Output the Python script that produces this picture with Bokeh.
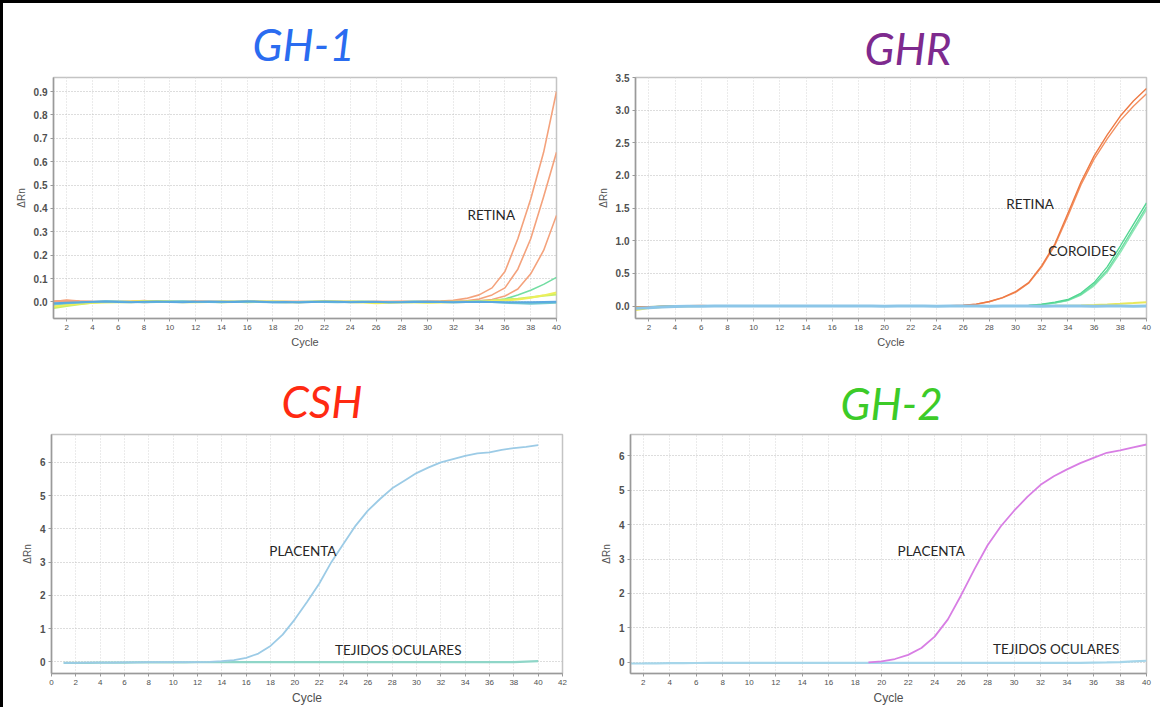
from bokeh.plotting import figure
from bokeh.layouts import column, row
from bokeh.models import FixedTicker, NumeralTickFormatter, Label
from bokeh.embed import file_html
from bokeh.resources import INLINE

# ---------------- data ----------------
cycles = list(range(1, 41))
x_ticks_a = [2, 4, 6, 8, 10, 12, 14, 16, 18, 20, 22, 24, 26, 28, 30, 32, 34, 36, 38, 40]
x_ticks_csh = [0, 2, 4, 6, 8, 10, 12, 14, 16, 18, 20, 22, 24, 26, 28, 30, 32, 34, 36, 38, 40, 42]
y_ticks_gh1 = [0.0, 0.1, 0.2, 0.3, 0.4, 0.5, 0.6, 0.7, 0.8, 0.9]
y_ticks_ghr = [0.0, 0.5, 1.0, 1.5, 2.0, 2.5, 3.0, 3.5]
y_ticks_csh = [0, 1, 2, 3, 4, 5, 6]
y_ticks_gh2 = [0, 1, 2, 3, 4, 5, 6]

titles = ["GH-1", "GHR", "CSH", "GH-2"]
labels_gh1 = ["RETINA"]
labels_ghr = ["RETINA", "COROIDES"]
labels_csh = ["PLACENTA", "TEJIDOS OCULARES"]
labels_gh2 = ["PLACENTA", "TEJIDOS OCULARES"]

# GH-1
gh1_retina_a = [0.004, 0.006, 0.003, 0.002, 0.001, 0.002, 0.003, 0.006, 0.002, 0.001, 0.002, 0.003, 0.002, 0.001, 0.002, 0.003, 0.002, 0.001, 0.002, 0.001,
                0.000, 0.001, 0.002, 0.001, 0.000, 0.001, 0.002, 0.001, 0.002, 0.003, 0.004, 0.007, 0.015, 0.030, 0.060, 0.130, 0.270, 0.440, 0.640, 0.900]
gh1_retina_b = [0.002, 0.008, 0.004, 0.001, 0.000, 0.001, 0.002, 0.003, 0.001, 0.000, 0.001, 0.002, 0.001, 0.000, 0.001, 0.002, 0.001, 0.000, 0.001, 0.000,
                0.001, 0.002, 0.001, 0.000, 0.001, 0.000, 0.001, 0.002, 0.001, 0.001, 0.002, 0.003, 0.005, 0.012, 0.030, 0.060, 0.140, 0.270, 0.450, 0.640]
gh1_retina_c = [0.000, 0.004, 0.002, 0.000, 0.001, 0.000, 0.001, -0.002, 0.000, 0.001, 0.000, 0.001, 0.000, 0.001, 0.000, 0.001, 0.000, 0.001, 0.000, 0.001,
                0.000, 0.001, 0.000, 0.001, 0.000, 0.001, 0.000, 0.001, 0.000, 0.001, 0.001, 0.002, 0.003, 0.005, 0.010, 0.025, 0.055, 0.120, 0.220, 0.370]
gh1_green = [-0.012, -0.008, -0.004, -0.001, 0.001, 0.002, 0.000, -0.001, 0.001, 0.002, 0.001, 0.000, -0.001, 0.000, 0.001, 0.002, 0.001, 0.000, -0.001, 0.000,
             0.001, 0.002, 0.001, 0.000, 0.001, 0.000, -0.001, 0.000, 0.001, 0.000, 0.001, 0.000, 0.001, 0.002, 0.005, 0.012, 0.030, 0.050, 0.075, 0.105]
gh1_blue = [-0.006, -0.004, -0.002, 0.001, 0.002, 0.000, -0.001, 0.001, 0.002, 0.000, -0.002, 0.001, 0.002, 0.001, 0.000, 0.002, 0.001, -0.001, 0.000, -0.003,
            0.000, 0.002, 0.001, -0.001, 0.000, 0.001, -0.002, -0.001, 0.000, 0.001, 0.000, -0.001, 0.000, 0.001, 0.000, -0.001, -0.002, -0.001, 0.000, 0.001]
gh1_yellow = [-0.020, -0.012, -0.008, -0.004, -0.002, 0.000, 0.002, 0.004, 0.003, 0.001, -0.001, 0.000, 0.001, -0.001, 0.000, 0.001, 0.002, 0.000, -0.002, -0.001,
              0.001, 0.003, 0.002, -0.002, -0.003, -0.006, -0.004, -0.002, -0.001, -0.004, -0.003, -0.001, 0.000, 0.002, 0.004, 0.006, 0.010, 0.018, 0.028, 0.040]
gh1_lime = [-0.026, -0.018, -0.010, -0.004, 0.000, -0.002, -0.001, 0.002, 0.004, 0.002, 0.000, -0.002, 0.000, 0.002, 0.001, -0.001, 0.000, 0.002, 0.001, -0.001,
            0.000, 0.001, 0.000, 0.002, 0.001, 0.000, -0.002, -0.001, 0.000, -0.001, 0.000, 0.001, 0.002, 0.004, 0.006, 0.010, 0.014, 0.020, 0.026, 0.032]
gh1_teal = [-0.010, -0.006, -0.003, 0.000, 0.003, 0.002, 0.000, -0.001, 0.000, 0.002, 0.003, 0.001, 0.000, -0.001, 0.001, 0.002, 0.000, -0.002, -0.001, 0.000,
            0.001, 0.000, -0.001, 0.000, 0.001, 0.000, -0.001, 0.000, 0.002, 0.001, 0.000, -0.001, 0.000, 0.001, 0.000, -0.004, -0.006, -0.008, -0.006, -0.004]

# GHR
ghr_retina_a = [-0.020, -0.012, -0.006, -0.002, 0.004, 0.006, 0.002, 0.000, 0.001, 0.000, 0.001, 0.000, 0.001, 0.000, 0.001, 0.000, 0.001, 0.000, 0.001, 0.000,
                0.001, 0.002, 0.003, 0.004, 0.006, 0.012, 0.030, 0.070, 0.130, 0.220, 0.360, 0.620, 0.950, 1.420, 1.900, 2.300, 2.620, 2.910, 3.140, 3.330]
ghr_retina_b = [-0.018, -0.010, -0.005, -0.001, 0.006, 0.008, 0.003, 0.001, 0.000, 0.001, 0.000, 0.001, 0.000, 0.001, 0.000, 0.001, 0.000, 0.001, 0.000, 0.001,
                0.000, 0.001, 0.002, 0.003, 0.005, 0.010, 0.028, 0.066, 0.125, 0.210, 0.350, 0.600, 0.930, 1.380, 1.860, 2.250, 2.560, 2.840, 3.060, 3.250]
ghr_coroides_a = [-0.020, -0.012, -0.006, -0.003, -0.001, 0.000, 0.001, 0.000, 0.001, 0.000, 0.001, 0.000, 0.001, 0.000, 0.001, 0.000, 0.001, 0.000, 0.001, 0.000,
                  0.001, 0.000, 0.001, 0.000, 0.001, 0.000, 0.001, 0.002, 0.003, 0.004, 0.010, 0.030, 0.060, 0.100, 0.200, 0.360, 0.600, 0.920, 1.250, 1.580]
ghr_coroides_b = [-0.018, -0.010, -0.005, -0.002, 0.000, 0.001, 0.000, 0.001, 0.000, 0.001, 0.000, 0.001, 0.000, 0.001, 0.000, 0.001, 0.000, 0.001, 0.000, 0.001,
                  0.000, 0.001, 0.000, 0.001, 0.000, 0.001, 0.000, 0.001, 0.002, 0.003, 0.008, 0.025, 0.050, 0.090, 0.180, 0.330, 0.550, 0.860, 1.190, 1.520]
ghr_coroides_c = [-0.016, -0.010, -0.004, -0.001, 0.000, 0.000, 0.001, 0.000, 0.001, 0.000, 0.001, 0.000, 0.001, 0.000, 0.001, 0.000, 0.001, 0.000, 0.001, 0.000,
                  0.001, 0.000, 0.001, 0.000, 0.001, 0.000, 0.001, 0.000, 0.001, 0.002, 0.006, 0.020, 0.045, 0.085, 0.170, 0.310, 0.520, 0.820, 1.150, 1.480]
ghr_blue = [-0.035, -0.025, -0.015, -0.008, -0.004, -0.002, 0.000, 0.001, 0.000, 0.001, 0.002, 0.001, 0.000, 0.001, 0.002, 0.001, 0.000, 0.001, 0.000, -0.001,
            0.000, 0.001, 0.000, -0.001, 0.000, 0.001, 0.000, -0.001, 0.000, 0.001, 0.000, -0.001, 0.000, 0.001, 0.000, -0.001, 0.000, 0.000, -0.001, 0.000]
ghr_yellow = [-0.060, -0.030, -0.015, -0.006, -0.002, 0.000, 0.001, 0.000, 0.001, 0.000, 0.001, 0.000, 0.001, 0.000, 0.001, 0.000, 0.001, 0.000, 0.001, 0.000,
              0.001, 0.000, 0.001, 0.000, 0.001, 0.000, 0.001, 0.000, 0.001, 0.000, 0.002, 0.003, 0.004, 0.006, 0.010, 0.016, 0.024, 0.034, 0.046, 0.060]

# CSH
csh_placenta = [-0.030, -0.030, -0.025, -0.020, -0.020, -0.015, -0.015, -0.010, -0.010, -0.010, -0.005, -0.005, 0.000, 0.020, 0.050, 0.120, 0.250, 0.480, 0.820, 1.280,
                1.800, 2.350, 3.000, 3.550, 4.100, 4.550, 4.900, 5.220, 5.450, 5.680, 5.850, 6.000, 6.100, 6.200, 6.270, 6.300, 6.380, 6.430, 6.470, 6.520]
csh_ocular = [-0.030, -0.030, -0.028, -0.025, -0.022, -0.020, -0.018, -0.016, -0.015, -0.014, -0.013, -0.012, -0.012, -0.011, -0.010, -0.010, -0.010, -0.010, -0.010, -0.010,
              -0.010, -0.010, -0.010, -0.010, -0.010, -0.010, -0.010, -0.010, -0.010, -0.010, -0.010, -0.010, -0.010, -0.010, -0.010, -0.010, -0.008, -0.005, 0.010, 0.020]

# GH-2
gh2_cycles_placenta = [19, 20, 21, 22, 23, 24, 25, 26, 27, 28, 29, 30, 31, 32, 33, 34, 35, 36, 37, 38, 39, 40]
gh2_placenta = [0.000, 0.030, 0.100, 0.220, 0.420, 0.750, 1.250, 1.950, 2.700, 3.400, 3.950, 4.400, 4.800, 5.150, 5.400, 5.600, 5.780, 5.930, 6.080, 6.150, 6.240, 6.320]
gh2_ocular = [-0.030, -0.028, -0.025, -0.020, -0.018, -0.015, -0.012, -0.010, -0.010, -0.010, -0.010, -0.010, -0.010, -0.010, -0.010, -0.010, -0.010, -0.010, -0.010, -0.010,
              -0.010, -0.010, -0.010, -0.010, -0.010, -0.010, -0.010, -0.010, -0.010, -0.010, -0.010, -0.010, -0.010, -0.010, -0.010, -0.005, 0.000, 0.010, 0.030, 0.050]

# ---------------- styling helpers ----------------
AX_FONT = "Liberation Sans"
TITLE_FONT = "Lato"
ANN_FONT = "Lato"


def make_panel(width, height, bl, br, bt, bb, xr, yr, xticks, yticks, yfmt,
               title, tcolor, toffset, tstandoff, xlabel_size):
    p = figure(width=width, height=height, x_range=xr, y_range=yr,
               output_backend="svg", toolbar_location=None,
               min_border_left=bl, min_border_right=br,
               min_border_top=bt, min_border_bottom=bb)
    p.title.text = title
    p.title.text_font = TITLE_FONT
    p.title.text_font_style = "italic"
    p.title.text_font_size = "44px"
    p.title.text_color = tcolor
    p.title.align = "left"
    p.title.offset = toffset
    p.title.standoff = tstandoff
    p.background_fill_color = "white"
    p.border_fill_color = "white"
    p.outline_line_color = "#C4C4C4"
    p.outline_line_width = 1.5

    p.xaxis.ticker = FixedTicker(ticks=xticks)
    p.yaxis.ticker = FixedTicker(ticks=yticks)
    if yfmt:
        p.yaxis.formatter = NumeralTickFormatter(format=yfmt)
    p.xaxis.axis_label = "Cycle"
    p.yaxis.axis_label = "\u0394Rn"
    for ax in (p.xaxis, p.yaxis):
        ax.axis_line_color = "#9A9A9A"
        ax.axis_line_width = 1.5
        ax.major_tick_line_color = "#9A9A9A"
        ax.major_tick_out = 3
        ax.major_tick_in = 0
        ax.minor_tick_line_color = None
        ax.major_label_text_font = AX_FONT
        ax.major_label_text_color = "#505050"
        ax.axis_label_text_font = AX_FONT
        ax.axis_label_text_font_style = "normal"
        ax.axis_label_text_color = "#505050"
    p.xaxis.major_label_text_font_size = "8px"
    p.yaxis.major_label_text_font_size = "10px"
    p.yaxis.major_label_text_font_style = "bold"
    p.xaxis.major_label_standoff = 3
    p.yaxis.major_label_standoff = 3
    p.xaxis.axis_label_text_font_size = xlabel_size
    p.yaxis.axis_label_text_font_size = "10px"
    p.xaxis.axis_label_standoff = 3
    p.yaxis.axis_label_standoff = 4

    p.xgrid.ticker = FixedTicker(ticks=xticks)
    p.ygrid.ticker = FixedTicker(ticks=yticks)
    p.xgrid.grid_line_color = "#D6D6D6"
    p.xgrid.grid_line_dash = "1 2"
    p.ygrid.grid_line_color = "#BBBBBB"
    p.ygrid.grid_line_dash = "1 2"
    return p


def add_label(p, x, y, text):
    p.add_layout(Label(x=x, y=y, text=text, text_font=ANN_FONT, text_font_size="13.5px",
                       text_color="#262626", text_baseline="middle", text_align="left"))


# ---------------- GH-1 ----------------
p1 = make_panel(589, 359, 50, 36, 72, 44, (0.97, 40), (-0.071, 0.96), x_ticks_a, y_ticks_gh1, "0.0",
                titles[0], "#2A6CF0", 199, 15, "11px")
for ys, c, w in [(gh1_retina_a, "#F4A27C", 1.6), (gh1_retina_b, "#F4A27C", 1.6), (gh1_retina_c, "#F4A27C", 1.6),
                 (gh1_green, "#72DDA2", 1.6), (gh1_lime, "#C9EE6A", 2.0), (gh1_yellow, "#EDEF5A", 2.0),
                 (gh1_teal, "#72C8D2", 2.0), (gh1_blue, "#5AA9E0", 2.0)]:
    p1.line(cycles, ys, line_color=c, line_width=w)
add_label(p1, 33.1, 0.37, labels_gh1[0])

# ---------------- GHR ----------------
p2 = make_panel(568, 359, 43, 14, 74, 43, (0.98, 40), (-0.19, 3.5), x_ticks_a, y_ticks_ghr, "0.0",
                titles[1], "#7E2A8E", 229, 7, "11px")
for ys, c, w in [(ghr_yellow, "#E8E85A", 2.0), (ghr_coroides_c, "#8EE6B6", 1.4), (ghr_coroides_b, "#6ADDA0", 1.4),
                 (ghr_coroides_a, "#52D692", 1.4), (ghr_retina_b, "#F39060", 1.4), (ghr_retina_a, "#EE7A44", 1.4),
                 (ghr_blue, "#8CC6E8", 3.0)]:
    p2.line(cycles, ys, line_color=c, line_width=w)
add_label(p2, 29.3, 1.56, labels_ghr[0])
add_label(p2, 32.5, 0.84, labels_ghr[1])

# ---------------- CSH ----------------
p3 = make_panel(589, 345, 48, 30, 72, 29, (0, 42), (-0.35, 6.84), x_ticks_csh, y_ticks_csh, None,
                titles[2], "#FF2A12", 230, 15, "12px")
p3.line(cycles, csh_ocular, line_color="#8FD6C8", line_width=2.2)
p3.line(cycles, csh_placenta, line_color="#9CCBE6", line_width=1.8)
add_label(p3, 17.9, 3.33, labels_csh[0])
add_label(p3, 23.3, 0.35, labels_csh[1])

# ---------------- GH-2 ----------------
p4 = make_panel(568, 345, 38, 14, 71, 28, (1.03, 40), (-0.32, 6.61), x_ticks_a, y_ticks_gh2, None,
                titles[3], "#3CCB28", 210, 12, "12px")
p4.line(cycles, gh2_ocular, line_color="#A6D6EA", line_width=2.2)
p4.line(gh2_cycles_placenta, gh2_placenta, line_color="#D87EE4", line_width=1.8)
add_label(p4, 21.2, 3.23, labels_gh2[0])
add_label(p4, 28.4, 0.38, labels_gh2[1])

layout = column(row(p1, p2, spacing=0), row(p3, p4, spacing=0), spacing=0,
                styles={"border-top": "3px solid black", "border-left": "3px solid black"})

open("out.html", "w").write(file_html(layout, INLINE))
